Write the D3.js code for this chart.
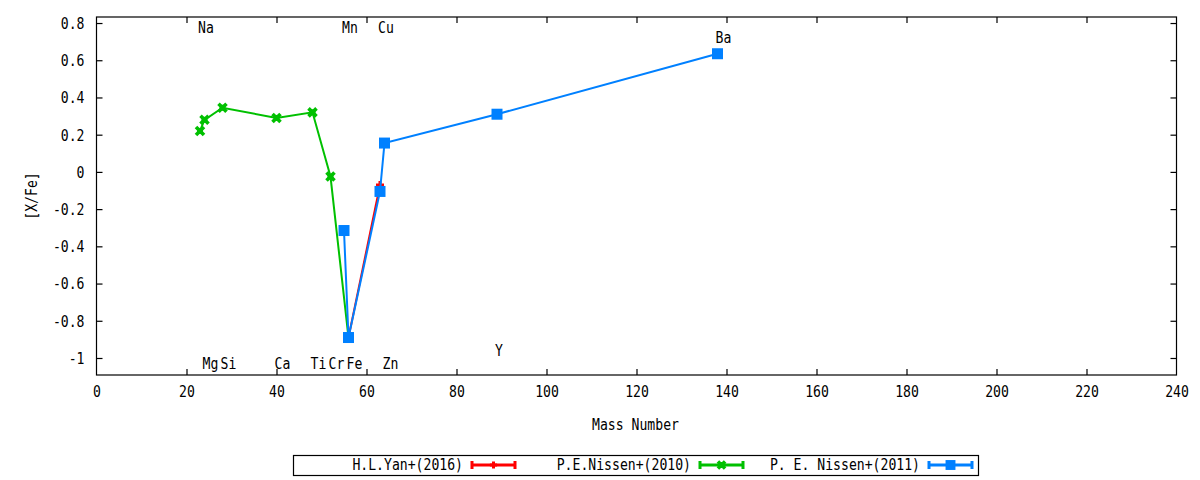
<!DOCTYPE html>
<html><head><meta charset="utf-8">
<script src="https://cdn.jsdelivr.net/npm/d3@7"></script>
<style>
body{margin:0;background:#fff;}
svg{display:block;}
text{font-family:"DejaVu Sans Mono",monospace;font-size:15px;fill:#000;}
</style></head>
<body><svg id="c" width="1200" height="480"></svg>
<script>
// ---- data ----
const xTicks = [0,20,40,60,80,100,120,140,160,180,200,220,240];
const yTicks = [-1,-0.8,-0.6,-0.4,-0.2,0,0.2,0.4,0.6,0.8];
const yTickLabels = ["-1","-0.8","-0.6","-0.4","-0.2","0","0.2","0.4","0.6","0.8"];

const seriesNames = ["H.L.Yan+(2016)","P.E.Nissen+(2010)","P. E. Nissen+(2011)"];
const seriesColors = ["#ff0000","#00c000","#0080ff"];

const yanMass = [56,63];
const yanVal  = [-0.89,-0.07];

const nissen2010Mass = [23,24,28,40,48,52,56];
const nissen2010Val  = [0.22,0.28,0.345,0.29,0.32,-0.025,-0.89];

const nissen2011Mass = [55,56,63,64,89,138];
const nissen2011Val  = [-0.315,-0.89,-0.105,0.155,0.31,0.635];

const labelText = ["Na","Mn","Cu","Ba","Y","Mg","Si","Ca","Ti","Cr","Fe","Zn"];
const labelMass = [23,55,63,138,89,24,28,40,48,52,56,64];
const labelVal  = [0.775,0.775,0.775,0.72,-0.965,-1.03,-1.03,-1.03,-1.03,-1.03,-1.03,-1.03];

// ---- layout ----
const L=96.5, R=1176.5, T=17, B=375;
const PITCH=7.9;
const x = d3.scaleLinear().domain([0,240]).range([L,R]);
const y = d3.scaleLinear().domain([-1.0914,0.8324]).range([B,T]);
const svg = d3.select("#c");

function cond(sel){
  sel.each(function(){
    const t=this.textContent;
    if(t.length) d3.select(this).attr("textLength",t.length*PITCH).attr("lengthAdjust","spacingAndGlyphs");
  });
  return sel;
}

// frame
svg.append("rect").attr("x",L).attr("y",T).attr("width",R-L).attr("height",B-T)
  .attr("fill","none").attr("stroke","#000").attr("stroke-width",1.2);

// axes (ticks inward, mirrored)
const tl=6;
const gx = svg.append("g").attr("transform",`translate(0,${B})`)
  .call(d3.axisBottom(x).tickValues(xTicks).tickSize(-tl).tickPadding(13).tickFormat(d3.format("d")));
const gxt = svg.append("g").attr("transform",`translate(0,${T})`)
  .call(d3.axisTop(x).tickValues(xTicks).tickSize(-tl).tickFormat(""));
const gy = svg.append("g").attr("transform",`translate(${L},0)`)
  .call(d3.axisLeft(y).tickValues(yTicks).tickSize(-tl).tickPadding(12).tickFormat((d,i)=>yTickLabels[i]));
const gyr = svg.append("g").attr("transform",`translate(${R},0)`)
  .call(d3.axisRight(y).tickValues(yTicks).tickSize(-tl).tickFormat(""));
[gx,gxt,gy,gyr].forEach(g=>{
  g.select(".domain").remove();
  g.selectAll("line").attr("stroke","#000").attr("stroke-width",1.2);
  g.selectAll("text").attr("font-family","DejaVu Sans Mono").attr("font-size","15px").attr("fill","#000");
});
gx.selectAll("text").attr("dy","0.62em");
gy.selectAll("text").attr("dy","0.36em");
cond(gx.selectAll("text")); cond(gy.selectAll("text"));
// remove ticks that coincide with frame edges
gx.selectAll(".tick").filter(d=>d===0||d===240).select("line").remove();
gxt.selectAll(".tick").filter(d=>d===0||d===240).select("line").remove();

// axis titles
cond(svg.append("text").attr("x",(L+R)/2-1).attr("y",430).attr("text-anchor","middle").text("Mass Number"));
cond(svg.append("text").attr("transform","translate(37,196) rotate(-90)").attr("text-anchor","middle").text("[X/Fe]"));

// element labels
labelText.forEach((t,i)=>{
  cond(svg.append("text").attr("x",x(labelMass[i])-2).attr("y",y(labelVal[i])+5).text(t));
});

// series
const line = d3.line().x(d=>x(d[0])).y(d=>y(d[1]));
const data = [
  d3.zip(yanMass,yanVal),
  d3.zip(nissen2010Mass,nissen2010Val),
  d3.zip(nissen2011Mass,nissen2011Val)
];

function marker(g,i,cx,cy,scale){
  const c=seriesColors[i];
  if(i===0){
    const s=4*scale;
    g.append("path").attr("d",`M${cx-s},${cy}H${cx+s}M${cx},${cy-s}V${cy+s}`)
      .attr("stroke",c).attr("stroke-width",3).attr("fill","none");
  } else if(i===1){
    const s=4*scale;
    g.append("path").attr("d",`M${cx-s},${cy-s}L${cx+s},${cy+s}M${cx-s},${cy+s}L${cx+s},${cy-s}`)
      .attr("stroke",c).attr("stroke-width",3.6).attr("fill","none");
    g.append("rect").attr("x",cx-3).attr("y",cy-3).attr("width",6).attr("height",6).attr("fill",c);
  } else {
    const s=5.5*scale;
    g.append("rect").attr("x",cx-s).attr("y",cy-s).attr("width",2*s).attr("height",2*s).attr("fill",c);
  }
}

data.forEach((pts,i)=>{
  const g=svg.append("g");
  g.append("path").datum(pts).attr("d",line).attr("fill","none")
    .attr("stroke",seriesColors[i]).attr("stroke-width",2);
  pts.forEach(p=>marker(g,i,x(p[0]),y(p[1]),1));
});

// legend
const lg = svg.append("g");
lg.append("rect").attr("x",293.5).attr("y",455.5).attr("width",685).attr("height",20)
  .attr("fill","none").attr("stroke","#000").attr("stroke-width",1.2);
const legTextX=[463,691,920];
const legY=465;
seriesNames.forEach((n,i)=>{
  cond(lg.append("text").attr("x",legTextX[i]).attr("y",legY+5).attr("text-anchor","end").text(n));
  const x0=legTextX[i]+9, x1=x0+43, c=seriesColors[i];
  lg.append("path").attr("d",`M${x0},${legY}H${x1}M${x0},${legY-4}V${legY+4}M${x1},${legY-4}V${legY+4}`)
    .attr("stroke",c).attr("stroke-width",3).attr("fill","none");
  marker(lg,i,(x0+x1)/2,legY,0.9);
});
</script></body></html>
